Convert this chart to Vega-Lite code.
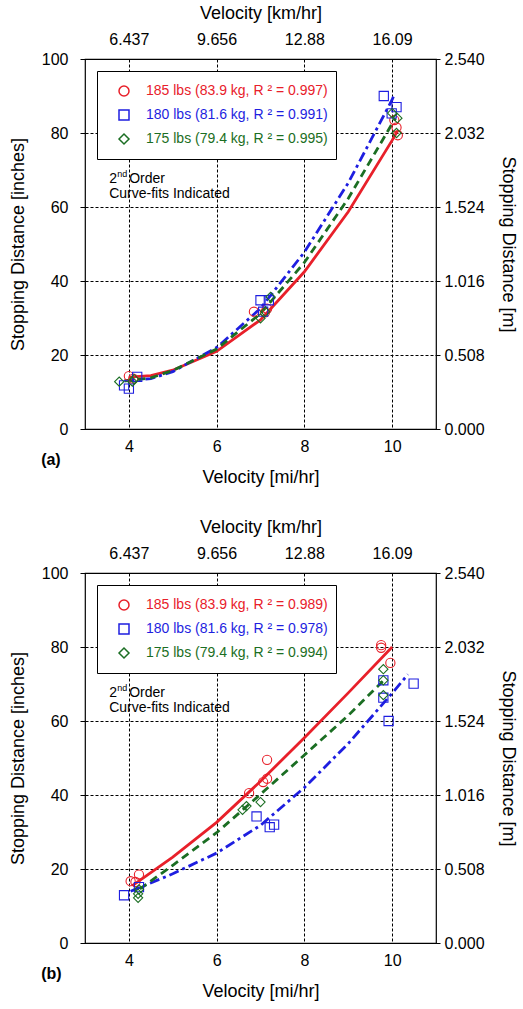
{
  "$schema": "https://vega.github.io/schema/vega-lite/v6.json",
  "padding": {"left": 8, "top": 3, "right": 3, "bottom": 0},
  "spacing": 30,
  "config": {
    "font": "Liberation Sans",
    "view": {"stroke": "black", "strokeWidth": 1.2},
    "axis": {"labelFontSize": 16, "titleFontSize": 18, "labelColor": "black", "titleColor": "black", "titleFontWeight": "normal", "labelFont": "Liberation Sans", "titleFont": "Liberation Sans", "tickColor": "black", "domain": false},
    "text": {"font": "Liberation Sans"}
  },
  "datasets": {
    "one": [{}],
    "pts": [
      {"p": "a", "w": "185", "v": 4.0, "d": 14.3}, {"p": "a", "w": "185", "v": 4.1, "d": 13.6}, {"p": "a", "w": "185", "v": 6.85, "d": 31.7}, {"p": "a", "w": "185", "v": 7.1, "d": 31.5}, {"p": "a", "w": "185", "v": 7.15, "d": 32.5}, {"p": "a", "w": "185", "v": 10.05, "d": 83.5}, {"p": "a", "w": "185", "v": 10.13, "d": 79.4}, {"p": "a", "w": "185", "v": 10.1, "d": 81.5},
      {"p": "a", "w": "180", "v": 3.89, "d": 11.8}, {"p": "a", "w": "180", "v": 4.0, "d": 10.9}, {"p": "a", "w": "180", "v": 4.19, "d": 14.1}, {"p": "a", "w": "180", "v": 7.0, "d": 34.8}, {"p": "a", "w": "180", "v": 7.19, "d": 34.8}, {"p": "a", "w": "180", "v": 7.06, "d": 31.7}, {"p": "a", "w": "180", "v": 9.81, "d": 90.0}, {"p": "a", "w": "180", "v": 10.1, "d": 87.0}, {"p": "a", "w": "180", "v": 9.99, "d": 85.3},
      {"p": "a", "w": "175", "v": 3.78, "d": 12.8}, {"p": "a", "w": "175", "v": 4.08, "d": 12.8}, {"p": "a", "w": "175", "v": 4.12, "d": 13.5}, {"p": "a", "w": "175", "v": 7.0, "d": 29.9}, {"p": "a", "w": "175", "v": 7.11, "d": 31.7}, {"p": "a", "w": "175", "v": 7.23, "d": 35.7}, {"p": "a", "w": "175", "v": 10.0, "d": 85.4}, {"p": "a", "w": "175", "v": 10.12, "d": 84.0}, {"p": "a", "w": "175", "v": 10.1, "d": 80.0},
      {"p": "b", "w": "185", "v": 4.04, "d": 16.7}, {"p": "b", "w": "185", "v": 4.15, "d": 16.5}, {"p": "b", "w": "185", "v": 4.23, "d": 18.5}, {"p": "b", "w": "185", "v": 6.74, "d": 40.5}, {"p": "b", "w": "185", "v": 7.06, "d": 43.5}, {"p": "b", "w": "185", "v": 7.15, "d": 44.4}, {"p": "b", "w": "185", "v": 7.15, "d": 49.5}, {"p": "b", "w": "185", "v": 9.75, "d": 80.5}, {"p": "b", "w": "185", "v": 9.75, "d": 79.8}, {"p": "b", "w": "185", "v": 9.96, "d": 75.7},
      {"p": "b", "w": "180", "v": 3.89, "d": 12.9}, {"p": "b", "w": "180", "v": 4.23, "d": 15.1}, {"p": "b", "w": "180", "v": 6.91, "d": 34.2}, {"p": "b", "w": "180", "v": 7.21, "d": 31.3}, {"p": "b", "w": "180", "v": 7.31, "d": 32.0}, {"p": "b", "w": "180", "v": 9.8, "d": 71.0}, {"p": "b", "w": "180", "v": 9.8, "d": 66.3}, {"p": "b", "w": "180", "v": 9.92, "d": 60.0}, {"p": "b", "w": "180", "v": 10.49, "d": 70.1},
      {"p": "b", "w": "175", "v": 4.21, "d": 13.3}, {"p": "b", "w": "175", "v": 4.21, "d": 12.2}, {"p": "b", "w": "175", "v": 4.23, "d": 14.5}, {"p": "b", "w": "175", "v": 6.59, "d": 36.0}, {"p": "b", "w": "175", "v": 6.68, "d": 37.0}, {"p": "b", "w": "175", "v": 7.0, "d": 38.1}, {"p": "b", "w": "175", "v": 9.8, "d": 74.0}, {"p": "b", "w": "175", "v": 9.8, "d": 71.0}, {"p": "b", "w": "175", "v": 9.8, "d": 67.0}
    ],
    "fits": [
      {"p": "a", "w": "185", "v": 4.0, "d": 14.0}, {"p": "a", "w": "185", "v": 4.5, "d": 14.4}, {"p": "a", "w": "185", "v": 5.0, "d": 15.9}, {"p": "a", "w": "185", "v": 6.0, "d": 21.0}, {"p": "a", "w": "185", "v": 7.0, "d": 29.5}, {"p": "a", "w": "185", "v": 8.0, "d": 42.5}, {"p": "a", "w": "185", "v": 9.0, "d": 58.7}, {"p": "a", "w": "185", "v": 10.0, "d": 78.0}, {"p": "a", "w": "185", "v": 10.12, "d": 80.5},
      {"p": "a", "w": "180", "v": 3.9, "d": 13.0}, {"p": "a", "w": "180", "v": 4.5, "d": 13.6}, {"p": "a", "w": "180", "v": 5.0, "d": 15.5}, {"p": "a", "w": "180", "v": 6.0, "d": 22.0}, {"p": "a", "w": "180", "v": 7.0, "d": 32.6}, {"p": "a", "w": "180", "v": 8.0, "d": 47.8}, {"p": "a", "w": "180", "v": 9.0, "d": 66.5}, {"p": "a", "w": "180", "v": 10.0, "d": 89.0}, {"p": "a", "w": "180", "v": 10.06, "d": 90.7},
      {"p": "a", "w": "175", "v": 3.9, "d": 13.0}, {"p": "a", "w": "175", "v": 4.5, "d": 13.8}, {"p": "a", "w": "175", "v": 5.0, "d": 15.8}, {"p": "a", "w": "175", "v": 6.0, "d": 21.6}, {"p": "a", "w": "175", "v": 7.0, "d": 31.2}, {"p": "a", "w": "175", "v": 8.0, "d": 45.0}, {"p": "a", "w": "175", "v": 9.0, "d": 62.3}, {"p": "a", "w": "175", "v": 10.0, "d": 82.5}, {"p": "a", "w": "175", "v": 10.08, "d": 84.0},
      {"p": "b", "w": "185", "v": 4.08, "d": 15.5}, {"p": "b", "w": "185", "v": 5.0, "d": 23.2}, {"p": "b", "w": "185", "v": 6.0, "d": 32.6}, {"p": "b", "w": "185", "v": 7.0, "d": 43.7}, {"p": "b", "w": "185", "v": 8.0, "d": 55.5}, {"p": "b", "w": "185", "v": 9.0, "d": 67.6}, {"p": "b", "w": "185", "v": 10.0, "d": 80.0},
      {"p": "b", "w": "180", "v": 4.04, "d": 14.0}, {"p": "b", "w": "180", "v": 5.0, "d": 18.7}, {"p": "b", "w": "180", "v": 6.0, "d": 24.3}, {"p": "b", "w": "180", "v": 7.0, "d": 31.8}, {"p": "b", "w": "180", "v": 8.0, "d": 42.0}, {"p": "b", "w": "180", "v": 9.0, "d": 53.9}, {"p": "b", "w": "180", "v": 10.0, "d": 67.5}, {"p": "b", "w": "180", "v": 10.36, "d": 72.6},
      {"p": "b", "w": "175", "v": 4.25, "d": 14.6}, {"p": "b", "w": "175", "v": 5.0, "d": 21.0}, {"p": "b", "w": "175", "v": 6.0, "d": 29.8}, {"p": "b", "w": "175", "v": 7.0, "d": 40.2}, {"p": "b", "w": "175", "v": 8.0, "d": 50.8}, {"p": "b", "w": "175", "v": 9.0, "d": 61.5}, {"p": "b", "w": "175", "v": 9.85, "d": 71.5}
    ]
  },
  "resolve": {
    "scale": {"color": "independent", "shape": "independent"},
    "legend": {"color": "independent", "shape": "independent"}
  },
  "vconcat": [
    {
      "width": 351, "height": 370,
      "resolve": {"axis": {"x": "independent", "y": "independent"}},
      "layer": [
        {
          "data": {"name": "fits"},
          "transform": [{"filter": "datum.p === 'a' && datum.w === '185'"}],
          "mark": {"type": "line", "strokeWidth": 2.8},
          "encoding": {
            "x": {"field": "v", "type": "quantitative", "scale": {"domain": [3, 11], "nice": false, "zero": false},
                  "axis": {"orient": "bottom", "values": [4, 6, 8, 10], "title": "Velocity [mi/hr]", "grid": true, "gridColor": "black", "gridDash": [3, 2], "gridOpacity": 1, "ticks": false, "labelPadding": 9, "titlePadding": 14}},
            "y": {"field": "d", "type": "quantitative", "scale": {"domain": [0, 100], "nice": false},
                  "axis": {"orient": "left", "values": [0, 20, 40, 60, 80, 100], "title": "Stopping Distance [inches]", "grid": true, "gridColor": "black", "gridDash": [3, 2], "gridOpacity": 1, "tickSize": 5, "labelPadding": 12, "titlePadding": 14}},
            "color": {"field": "w", "type": "nominal"}
          }
        },
        {
          "data": {"name": "fits"},
          "transform": [{"filter": "datum.p === 'a' && datum.w === '180'"}],
          "mark": {"type": "line", "strokeWidth": 2.8, "strokeDash": [10, 4, 3, 4]},
          "encoding": {
            "x": {"field": "v", "type": "quantitative", "axis": null},
            "y": {"field": "d", "type": "quantitative", "axis": null},
            "color": {"field": "w", "type": "nominal"}
          }
        },
        {
          "data": {"name": "fits"},
          "transform": [{"filter": "datum.p === 'a' && datum.w === '175'"}],
          "mark": {"type": "line", "strokeWidth": 2.8, "strokeDash": [8, 5]},
          "encoding": {
            "x": {"field": "v", "type": "quantitative", "axis": null},
            "y": {"field": "d", "type": "quantitative", "axis": null},
            "color": {"field": "w", "type": "nominal"}
          }
        },
        {
          "data": {"name": "pts"},
          "transform": [{"filter": "datum.p === 'a'"}],
          "mark": {"type": "point", "filled": false, "size": 85, "strokeWidth": 1.1, "opacity": 1},
          "encoding": {
            "x": {"field": "v", "type": "quantitative",
                  "axis": {"orient": "top", "values": [4, 6, 8, 10], "labelExpr": "datum.value == 4 ? '6.437' : datum.value == 6 ? '9.656' : datum.value == 8 ? '12.88' : '16.09'", "title": "Velocity [km/hr]", "grid": false, "ticks": false, "labelPadding": 12, "titlePadding": 9}},
            "y": {"field": "d", "type": "quantitative",
                  "axis": {"orient": "right", "values": [0, 20, 40, 60, 80, 100], "labelExpr": "format(datum.value * 0.0254, '.3f')", "title": "Stopping Distance [m]", "grid": false, "tickSize": 4, "labelPadding": 4, "titlePadding": 14}},
            "color": {"field": "w", "type": "nominal", "scale": {"domain": ["185", "180", "175"], "range": ["#e8202a", "#1e1ee0", "#1b6e23"]},
                      "legend": {"title": null, "orient": "top-left", "offset": 12, "padding": 8, "strokeColor": "black", "fillColor": "white", "labelFontSize": 14, "labelFont": "Liberation Sans", "labelLimit": 400, "symbolSize": 100, "symbolStrokeWidth": 1.5, "symbolOffset": 12, "rowPadding": 0, "clipHeight": 24, "labelOffset": 15,
                                 "labelColor": {"expr": "datum.value === '185' ? '#e8202a' : datum.value === '180' ? '#1e1ee0' : '#1b6e23'"},
                                 "labelExpr": "datum.value === '185' ? '185 lbs (83.9 kg, R ² = 0.997)' : datum.value === '180' ? '180 lbs (81.6 kg, R ² = 0.991)' : '175 lbs (79.4 kg, R ² = 0.995)'"}},
            "shape": {"field": "w", "type": "nominal", "scale": {"domain": ["185", "180", "175"], "range": ["circle", "square", "diamond"]}}
          }
        },
        {
          "data": {"name": "one"},
          "mark": {"type": "text", "align": "left", "baseline": "middle", "fontSize": 14, "color": "black"},
          "encoding": {"x": {"datum": 3.55, "type": "quantitative", "axis": null}, "y": {"datum": 67.7, "type": "quantitative", "axis": null}, "text": {"value": "2"}}
        },
        {
          "data": {"name": "one"},
          "mark": {"type": "text", "align": "left", "baseline": "middle", "fontSize": 9, "dx": 8, "dy": -5, "color": "black"},
          "encoding": {"x": {"datum": 3.55, "type": "quantitative", "axis": null}, "y": {"datum": 67.7, "type": "quantitative", "axis": null}, "text": {"value": "nd"}}
        },
        {
          "data": {"name": "one"},
          "mark": {"type": "text", "align": "left", "baseline": "middle", "fontSize": 14, "dx": 20, "color": "black"},
          "encoding": {"x": {"datum": 3.55, "type": "quantitative", "axis": null}, "y": {"datum": 67.7, "type": "quantitative", "axis": null}, "text": {"value": "Order"}}
        },
        {
          "data": {"name": "one"},
          "mark": {"type": "text", "align": "left", "baseline": "middle", "fontSize": 14, "color": "black"},
          "encoding": {"x": {"datum": 3.55, "type": "quantitative", "axis": null}, "y": {"datum": 63.4, "type": "quantitative", "axis": null}, "text": {"value": "Curve-fits Indicated"}}
        },
        {
          "data": {"name": "one"},
          "mark": {"type": "text", "align": "left", "baseline": "middle", "fontSize": 16, "fontWeight": "bold", "color": "black"},
          "encoding": {"x": {"datum": 2.0, "type": "quantitative", "axis": null}, "y": {"datum": -8.4, "type": "quantitative", "axis": null}, "text": {"value": "(a)"}}
        }
      ]
    },
    {
      "width": 351, "height": 370,
      "resolve": {"axis": {"x": "independent", "y": "independent"}},
      "layer": [
        {
          "data": {"name": "fits"},
          "transform": [{"filter": "datum.p === 'b' && datum.w === '185'"}],
          "mark": {"type": "line", "strokeWidth": 2.8},
          "encoding": {
            "x": {"field": "v", "type": "quantitative", "scale": {"domain": [3, 11], "nice": false, "zero": false},
                  "axis": {"orient": "bottom", "values": [4, 6, 8, 10], "title": "Velocity [mi/hr]", "grid": true, "gridColor": "black", "gridDash": [3, 2], "gridOpacity": 1, "ticks": false, "labelPadding": 9, "titlePadding": 14}},
            "y": {"field": "d", "type": "quantitative", "scale": {"domain": [0, 100], "nice": false},
                  "axis": {"orient": "left", "values": [0, 20, 40, 60, 80, 100], "title": "Stopping Distance [inches]", "grid": true, "gridColor": "black", "gridDash": [3, 2], "gridOpacity": 1, "tickSize": 5, "labelPadding": 12, "titlePadding": 14}},
            "color": {"field": "w", "type": "nominal"}
          }
        },
        {
          "data": {"name": "fits"},
          "transform": [{"filter": "datum.p === 'b' && datum.w === '180'"}],
          "mark": {"type": "line", "strokeWidth": 2.8, "strokeDash": [10, 4, 3, 4]},
          "encoding": {
            "x": {"field": "v", "type": "quantitative", "axis": null},
            "y": {"field": "d", "type": "quantitative", "axis": null},
            "color": {"field": "w", "type": "nominal"}
          }
        },
        {
          "data": {"name": "fits"},
          "transform": [{"filter": "datum.p === 'b' && datum.w === '175'"}],
          "mark": {"type": "line", "strokeWidth": 2.8, "strokeDash": [8, 5]},
          "encoding": {
            "x": {"field": "v", "type": "quantitative", "axis": null},
            "y": {"field": "d", "type": "quantitative", "axis": null},
            "color": {"field": "w", "type": "nominal"}
          }
        },
        {
          "data": {"name": "pts"},
          "transform": [{"filter": "datum.p === 'b'"}],
          "mark": {"type": "point", "filled": false, "size": 85, "strokeWidth": 1.1, "opacity": 1},
          "encoding": {
            "x": {"field": "v", "type": "quantitative",
                  "axis": {"orient": "top", "values": [4, 6, 8, 10], "labelExpr": "datum.value == 4 ? '6.437' : datum.value == 6 ? '9.656' : datum.value == 8 ? '12.88' : '16.09'", "title": "Velocity [km/hr]", "grid": false, "ticks": false, "labelPadding": 12, "titlePadding": 9}},
            "y": {"field": "d", "type": "quantitative",
                  "axis": {"orient": "right", "values": [0, 20, 40, 60, 80, 100], "labelExpr": "format(datum.value * 0.0254, '.3f')", "title": "Stopping Distance [m]", "grid": false, "tickSize": 4, "labelPadding": 4, "titlePadding": 14}},
            "color": {"field": "w", "type": "nominal", "scale": {"domain": ["185", "180", "175"], "range": ["#e8202a", "#1e1ee0", "#1b6e23"]},
                      "legend": {"title": null, "orient": "top-left", "offset": 12, "padding": 8, "strokeColor": "black", "fillColor": "white", "labelFontSize": 14, "labelFont": "Liberation Sans", "labelLimit": 400, "symbolSize": 100, "symbolStrokeWidth": 1.5, "symbolOffset": 12, "rowPadding": 0, "clipHeight": 24, "labelOffset": 15,
                                 "labelColor": {"expr": "datum.value === '185' ? '#e8202a' : datum.value === '180' ? '#1e1ee0' : '#1b6e23'"},
                                 "labelExpr": "datum.value === '185' ? '185 lbs (83.9 kg, R ² = 0.989)' : datum.value === '180' ? '180 lbs (81.6 kg, R ² = 0.978)' : '175 lbs (79.4 kg, R ² = 0.994)'"}},
            "shape": {"field": "w", "type": "nominal", "scale": {"domain": ["185", "180", "175"], "range": ["circle", "square", "diamond"]}}
          }
        },
        {
          "data": {"name": "one"},
          "mark": {"type": "text", "align": "left", "baseline": "middle", "fontSize": 14, "color": "black"},
          "encoding": {"x": {"datum": 3.55, "type": "quantitative", "axis": null}, "y": {"datum": 67.7, "type": "quantitative", "axis": null}, "text": {"value": "2"}}
        },
        {
          "data": {"name": "one"},
          "mark": {"type": "text", "align": "left", "baseline": "middle", "fontSize": 9, "dx": 8, "dy": -5, "color": "black"},
          "encoding": {"x": {"datum": 3.55, "type": "quantitative", "axis": null}, "y": {"datum": 67.7, "type": "quantitative", "axis": null}, "text": {"value": "nd"}}
        },
        {
          "data": {"name": "one"},
          "mark": {"type": "text", "align": "left", "baseline": "middle", "fontSize": 14, "dx": 20, "color": "black"},
          "encoding": {"x": {"datum": 3.55, "type": "quantitative", "axis": null}, "y": {"datum": 67.7, "type": "quantitative", "axis": null}, "text": {"value": "Order"}}
        },
        {
          "data": {"name": "one"},
          "mark": {"type": "text", "align": "left", "baseline": "middle", "fontSize": 14, "color": "black"},
          "encoding": {"x": {"datum": 3.55, "type": "quantitative", "axis": null}, "y": {"datum": 63.4, "type": "quantitative", "axis": null}, "text": {"value": "Curve-fits Indicated"}}
        },
        {
          "data": {"name": "one"},
          "mark": {"type": "text", "align": "left", "baseline": "middle", "fontSize": 16, "fontWeight": "bold", "color": "black"},
          "encoding": {"x": {"datum": 2.0, "type": "quantitative", "axis": null}, "y": {"datum": -8.4, "type": "quantitative", "axis": null}, "text": {"value": "(b)"}}
        }
      ]
    }
  ]
}
